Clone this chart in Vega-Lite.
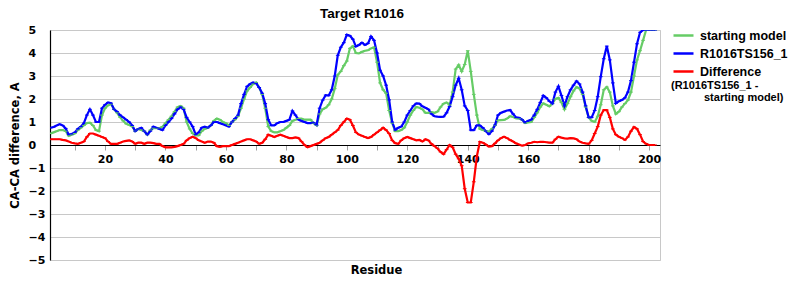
{
  "$schema": "https://vega.github.io/schema/vega-lite/v6.json",
  "width": 610,
  "height": 230,
  "autosize": {"type": "none"},
  "padding": {"left": 50, "top": 30, "right": 140, "bottom": 40},
  "background": "white",
  "title": {"text": "Target R1016", "font": "Liberation Sans", "fontSize": 13.5, "fontWeight": "bold", "anchor": "middle", "frame": "group", "dx": 7, "offset": 4, "color": "black"},
  "config": {"view": {"stroke": "#c8c8c8"}},
  "data": {"values": [
    {"x":2,"g":0.5,"m":0.75,"r":0.25},{"x":3,"g":0.55,"m":0.78,"r":0.25},{"x":4,"g":0.6,"m":0.85,"r":0.25},{"x":5,"g":0.65,"m":0.9,"r":0.25},{"x":6,"g":0.65,"m":0.85,"r":0.22},
    {"x":7,"g":0.6,"m":0.72,"r":0.2},{"x":8,"g":0.4,"m":0.45,"r":0.15},{"x":9,"g":0.45,"m":0.48,"r":0.1},{"x":10,"g":0.5,"m":0.55,"r":0.07},{"x":11,"g":0.65,"m":0.7,"r":0.05},
    {"x":12,"g":0.75,"m":0.8,"r":0.1},{"x":13,"g":0.85,"m":0.95,"r":0.15},{"x":14,"g":0.95,"m":1.3,"r":0.35},{"x":15,"g":0.97,"m":1.55,"r":0.5},{"x":16,"g":0.85,"m":1.3,"r":0.5},
    {"x":17,"g":0.65,"m":1.0,"r":0.45},{"x":18,"g":0.6,"m":1.0,"r":0.4},{"x":19,"g":1.3,"m":1.6,"r":0.35},{"x":20,"g":1.6,"m":1.75,"r":0.3},{"x":21,"g":1.72,"m":1.85,"r":0.15},
    {"x":22,"g":1.78,"m":1.82,"r":0.05},{"x":23,"g":1.55,"m":1.55,"r":0.05},{"x":24,"g":1.4,"m":1.45,"r":0.05},{"x":25,"g":1.2,"m":1.3,"r":0.1},{"x":26,"g":1.05,"m":1.2,"r":0.15},
    {"x":27,"g":0.92,"m":1.1,"r":0.18},{"x":28,"g":0.87,"m":1.0,"r":0.2},{"x":29,"g":0.8,"m":0.85,"r":0.15},{"x":30,"g":0.6,"m":0.6,"r":0.05},{"x":31,"g":0.7,"m":0.7,"r":0.1},
    {"x":32,"g":0.65,"m":0.75,"r":0.1},{"x":33,"g":0.6,"m":0.6,"r":0.05},{"x":34,"g":0.45,"m":0.45,"r":0.1},{"x":35,"g":0.65,"m":0.6,"r":0.1},{"x":36,"g":0.73,"m":0.8,"r":0.08},
    {"x":37,"g":0.73,"m":0.75,"r":0.05},{"x":38,"g":0.73,"m":0.7,"r":0.05},{"x":39,"g":0.8,"m":0.65,"r":-0.05},{"x":40,"g":0.95,"m":0.85,"r":-0.1},{"x":41,"g":1.1,"m":1.0,"r":-0.1},
    {"x":42,"g":1.25,"m":1.15,"r":-0.1},{"x":43,"g":1.45,"m":1.35,"r":-0.08},{"x":44,"g":1.65,"m":1.55,"r":-0.05},{"x":45,"g":1.7,"m":1.65,"r":0.0},{"x":46,"g":1.6,"m":1.55,"r":0.05},
    {"x":47,"g":1.0,"m":1.2,"r":0.2},{"x":48,"g":0.7,"m":1.0,"r":0.3},{"x":49,"g":0.5,"m":0.8,"r":0.36},{"x":50,"g":0.42,"m":0.45,"r":0.3},{"x":51,"g":0.42,"m":0.55,"r":0.2},
    {"x":52,"g":0.6,"m":0.75,"r":0.15},{"x":53,"g":0.7,"m":0.8,"r":0.1},{"x":54,"g":0.75,"m":0.75,"r":0.15},{"x":55,"g":0.85,"m":0.85,"r":0.15},{"x":56,"g":1.05,"m":1.0,"r":0.1},
    {"x":57,"g":1.15,"m":1.0,"r":-0.05},{"x":58,"g":1.1,"m":0.95,"r":-0.08},{"x":59,"g":1.0,"m":0.9,"r":-0.05},{"x":60,"g":0.95,"m":0.85,"r":-0.05},{"x":61,"g":0.85,"m":0.8,"r":-0.05},
    {"x":62,"g":1.0,"m":1.0,"r":0.0},{"x":63,"g":1.1,"m":1.15,"r":0.05},{"x":64,"g":1.25,"m":1.3,"r":0.1},{"x":65,"g":1.6,"m":1.8,"r":0.15},{"x":66,"g":2.0,"m":2.2,"r":0.2},
    {"x":67,"g":2.35,"m":2.55,"r":0.25},{"x":68,"g":2.5,"m":2.65,"r":0.25},{"x":69,"g":2.65,"m":2.72,"r":0.2},{"x":70,"g":2.72,"m":2.68,"r":0.15},{"x":71,"g":2.5,"m":2.5,"r":0.05},
    {"x":72,"g":2.2,"m":2.25,"r":0.1},{"x":73,"g":1.6,"m":1.8,"r":0.25},{"x":74,"g":0.8,"m":1.1,"r":0.45},{"x":75,"g":0.6,"m":0.85,"r":0.4},{"x":76,"g":0.55,"m":0.85,"r":0.35},
    {"x":77,"g":0.55,"m":0.95,"r":0.4},{"x":78,"g":0.6,"m":1.0,"r":0.45},{"x":79,"g":0.65,"m":1.0,"r":0.4},{"x":80,"g":0.75,"m":1.05,"r":0.35},{"x":81,"g":0.85,"m":1.1,"r":0.3},
    {"x":82,"g":1.05,"m":1.48,"r":0.3},{"x":83,"g":1.1,"m":1.3,"r":0.33},{"x":84,"g":1.15,"m":1.1,"r":0.3},{"x":85,"g":1.15,"m":1.05,"r":0.15},{"x":86,"g":1.1,"m":1.0,"r":0.0},
    {"x":87,"g":1.1,"m":0.95,"r":-0.1},{"x":88,"g":1.1,"m":0.95,"r":-0.05},{"x":89,"g":0.95,"m":0.97,"r":0.0},{"x":90,"g":0.85,"m":0.87,"r":0.05},{"x":91,"g":1.35,"m":1.6,"r":0.1},
    {"x":92,"g":1.55,"m":1.95,"r":0.2},{"x":93,"g":1.62,"m":2.17,"r":0.3},{"x":94,"g":1.75,"m":2.15,"r":0.35},{"x":95,"g":2.0,"m":2.4,"r":0.45},{"x":96,"g":2.45,"m":3.0,"r":0.55},
    {"x":97,"g":3.05,"m":3.9,"r":0.65},{"x":98,"g":3.2,"m":4.25,"r":0.85},{"x":99,"g":3.45,"m":4.45,"r":1.0},{"x":100,"g":3.65,"m":4.8,"r":1.15},{"x":101,"g":4.2,"m":4.75,"r":1.1},
    {"x":102,"g":4.3,"m":4.6,"r":0.85},{"x":103,"g":4.0,"m":4.28,"r":0.55},{"x":104,"g":3.98,"m":4.35,"r":0.45},{"x":105,"g":4.05,"m":4.45,"r":0.4},{"x":106,"g":4.1,"m":4.35,"r":0.35},
    {"x":107,"g":4.12,"m":4.42,"r":0.3},{"x":108,"g":4.2,"m":4.72,"r":0.35},{"x":109,"g":4.25,"m":4.55,"r":0.45},{"x":110,"g":3.6,"m":4.0,"r":0.55},{"x":111,"g":2.7,"m":3.25,"r":0.65},
    {"x":112,"g":2.4,"m":3.0,"r":0.75},{"x":113,"g":2.25,"m":2.6,"r":0.65},{"x":114,"g":1.5,"m":1.96,"r":0.5},{"x":115,"g":0.95,"m":1.0,"r":0.2},{"x":116,"g":0.6,"m":0.65,"r":0.08},
    {"x":117,"g":0.6,"m":0.75,"r":0.05},{"x":118,"g":0.65,"m":0.8,"r":0.2},{"x":119,"g":0.75,"m":1.0,"r":0.3},{"x":120,"g":1.0,"m":1.3,"r":0.35},{"x":121,"g":1.3,"m":1.5,"r":0.3},
    {"x":122,"g":1.5,"m":1.7,"r":0.25},{"x":123,"g":1.65,"m":1.81,"r":0.2},{"x":124,"g":1.62,"m":1.8,"r":0.22},{"x":125,"g":1.55,"m":1.68,"r":0.15},{"x":126,"g":1.4,"m":1.62,"r":0.25},
    {"x":127,"g":1.4,"m":1.55,"r":0.2},{"x":128,"g":1.43,"m":1.35,"r":0.05},{"x":129,"g":1.4,"m":1.25,"r":-0.05},{"x":130,"g":1.45,"m":1.23,"r":-0.15},{"x":131,"g":1.65,"m":1.22,"r":-0.3},
    {"x":132,"g":1.8,"m":1.23,"r":-0.4},{"x":133,"g":1.85,"m":1.4,"r":-0.2},{"x":134,"g":1.74,"m":1.67,"r":0.0},{"x":135,"g":2.3,"m":2.1,"r":-0.1},{"x":136,"g":3.3,"m":2.6,"r":-0.4},
    {"x":137,"g":3.48,"m":2.9,"r":-0.6},{"x":138,"g":3.2,"m":2.4,"r":-0.9},{"x":139,"g":3.5,"m":1.7,"r":-1.9},{"x":140,"g":4.1,"m":1.5,"r":-2.5},{"x":141,"g":3.2,"m":0.65,"r":-2.5},
    {"x":142,"g":2.2,"m":0.65,"r":-1.6},{"x":143,"g":1.3,"m":0.85,"r":-0.5},{"x":144,"g":0.7,"m":0.85,"r":0.14},{"x":145,"g":0.65,"m":0.75,"r":0.1},{"x":146,"g":0.6,"m":0.6,"r":0.02},
    {"x":147,"g":0.58,"m":0.47,"r":-0.07},{"x":148,"g":0.7,"m":0.6,"r":-0.05},{"x":149,"g":0.85,"m":0.87,"r":0.07},{"x":150,"g":1.07,"m":1.3,"r":0.2},{"x":151,"g":1.08,"m":1.4,"r":0.3},
    {"x":152,"g":1.09,"m":1.45,"r":0.36},{"x":153,"g":1.15,"m":1.5,"r":0.3},{"x":154,"g":1.25,"m":1.52,"r":0.22},{"x":155,"g":1.22,"m":1.35,"r":0.15},{"x":156,"g":1.16,"m":1.2,"r":0.07},
    {"x":157,"g":1.15,"m":1.18,"r":0.02},{"x":158,"g":1.1,"m":1.1,"r":-0.03},{"x":159,"g":0.95,"m":0.97,"r":0.0},{"x":160,"g":0.98,"m":1.05,"r":0.07},{"x":161,"g":1.0,"m":1.1,"r":0.1},
    {"x":162,"g":1.2,"m":1.3,"r":0.14},{"x":163,"g":1.4,"m":1.55,"r":0.12},{"x":164,"g":1.65,"m":1.85,"r":0.14},{"x":165,"g":1.81,"m":2.15,"r":0.14},{"x":166,"g":1.75,"m":2.05,"r":0.12},
    {"x":167,"g":1.68,"m":1.9,"r":0.1},{"x":168,"g":1.8,"m":1.8,"r":0.1},{"x":169,"g":2.0,"m":2.3,"r":0.25},{"x":170,"g":2.05,"m":2.55,"r":0.36},{"x":171,"g":1.85,"m":2.15,"r":0.32},
    {"x":172,"g":1.55,"m":1.7,"r":0.29},{"x":173,"g":1.8,"m":2.1,"r":0.28},{"x":174,"g":2.1,"m":2.4,"r":0.3},{"x":175,"g":2.35,"m":2.6,"r":0.29},{"x":176,"g":2.52,"m":2.78,"r":0.25},
    {"x":177,"g":2.45,"m":2.65,"r":0.15},{"x":178,"g":2.2,"m":2.3,"r":0.1},{"x":179,"g":1.65,"m":1.7,"r":0.07},{"x":180,"g":1.2,"m":1.2,"r":0.05},{"x":181,"g":1.05,"m":1.2,"r":0.2},
    {"x":182,"g":1.0,"m":1.5,"r":0.5},{"x":183,"g":1.25,"m":2.1,"r":0.8},{"x":184,"g":1.75,"m":2.97,"r":1.3},{"x":185,"g":2.4,"m":3.75,"r":1.52},{"x":186,"g":2.52,"m":4.3,"r":1.52},
    {"x":187,"g":2.3,"m":3.7,"r":1.2},{"x":188,"g":1.7,"m":2.7,"r":0.7},{"x":189,"g":1.35,"m":1.81,"r":0.45},{"x":190,"g":1.45,"m":1.9,"r":0.36},{"x":191,"g":1.65,"m":1.96,"r":0.3},
    {"x":192,"g":1.8,"m":2.05,"r":0.22},{"x":193,"g":1.95,"m":2.3,"r":0.35},{"x":194,"g":2.3,"m":2.8,"r":0.6},{"x":195,"g":3.0,"m":3.6,"r":0.78},{"x":196,"g":3.7,"m":4.4,"r":0.7},
    {"x":197,"g":4.1,"m":4.9,"r":0.45},{"x":198,"g":4.55,"m":5,"r":0.15},{"x":199,"g":5,"m":5,"r":0.05},{"x":200,"g":5,"m":5,"r":0},{"x":201,"g":5,"m":5,"r":0},
    {"x":202,"g":5,"m":5,"r":0}
  ]},
  "transform": [{"fold": ["g", "m", "r"], "as": ["series", "value"]}],
  "encoding": {
    "x": {"field": "x", "type": "quantitative",
      "scale": {"domain": [1.8, 203.6], "nice": false, "zero": false},
      "axis": {"values": [10,20,30,40,50,60,70,80,90,100,110,120,130,140,150,160,170,180,190,200],
        "labelExpr": "datum.value % 20 == 0 ? datum.label : ''",
        "offset": -115, "grid": false, "domainColor": "black", "domainWidth": 1.2,
        "tickColor": "#a0a0a0", "tickSize": 5, "labelFont": "DejaVu Sans", "labelFontWeight": "bold",
        "labelFontSize": 11, "labelColor": "black", "labelPadding": 3,
        "title": "Residue", "titleFont": "DejaVu Sans", "titleFontSize": 11.5, "titleFontWeight": "bold",
        "titleColor": "black", "titleX": 326, "titleY": 125, "titleBaseline": "middle"}},
    "y": {"field": "value", "type": "quantitative",
      "scale": {"domain": [-5, 5], "nice": false},
      "axis": {"values": [-5,-4,-3,-2,-1,0,1,2,3,4,5], "ticks": false, "tickSize": 0,
        "labelAlign": "left", "labelPadding": 22, "domainColor": "black", "domainWidth": 1.2,
        "grid": true, "gridColor": "#c8c8c8", "labelFont": "DejaVu Sans", "labelFontWeight": "bold",
        "labelFontSize": 11, "labelColor": "black",
        "title": "CA-CA difference, A", "titleFont": "DejaVu Sans", "titleFontSize": 11.5,
        "titleFontWeight": "bold", "titleColor": "black", "titlePadding": 8}},
    "color": {"field": "series", "type": "nominal",
      "scale": {"domain": ["g", "m", "r"], "range": ["#66cc66", "#0000ff", "#ff0000"]},
      "legend": {"orient": "none", "legendX": 622, "legendY": -6, "title": null,
        "symbolType": "stroke", "symbolSize": 400, "symbolStrokeWidth": 2.5,
        "labelExpr": "datum.value == 'g' ? 'starting model' : datum.value == 'm' ? 'R1016TS156_1' : 'Difference'",
        "labelFont": "Liberation Sans", "labelFontSize": 12.5, "labelFontWeight": "bold",
        "labelColor": "black", "labelOffset": 5, "rowPadding": 0}}
  },
  "layer": [
    {"mark": {"type": "line", "strokeWidth": 2.2, "clip": true}},
    {"mark": {"type": "point", "filled": false, "size": 14, "strokeWidth": 1, "opacity": 1, "clip": true},
      "encoding": {"shape": {"datum": "note", "scale": {"range": ["stroke"]},
        "legend": {"orient": "none", "legendX": 621, "legendY": 50,
          "title": ["(R1016TS156_1 -", "\u200b\u2002\u2002\u2002\u2002\u2002\u2002starting model)"],
          "titleFont": "Liberation Sans", "titleFontSize": 11, "titleFontWeight": "bold",
          "titleColor": "black", "titleLineHeight": 11.5, "titleLimit": 300,
          "labelExpr": "''", "symbolOpacity": 0, "symbolSize": 0}}}}
  ]
}
